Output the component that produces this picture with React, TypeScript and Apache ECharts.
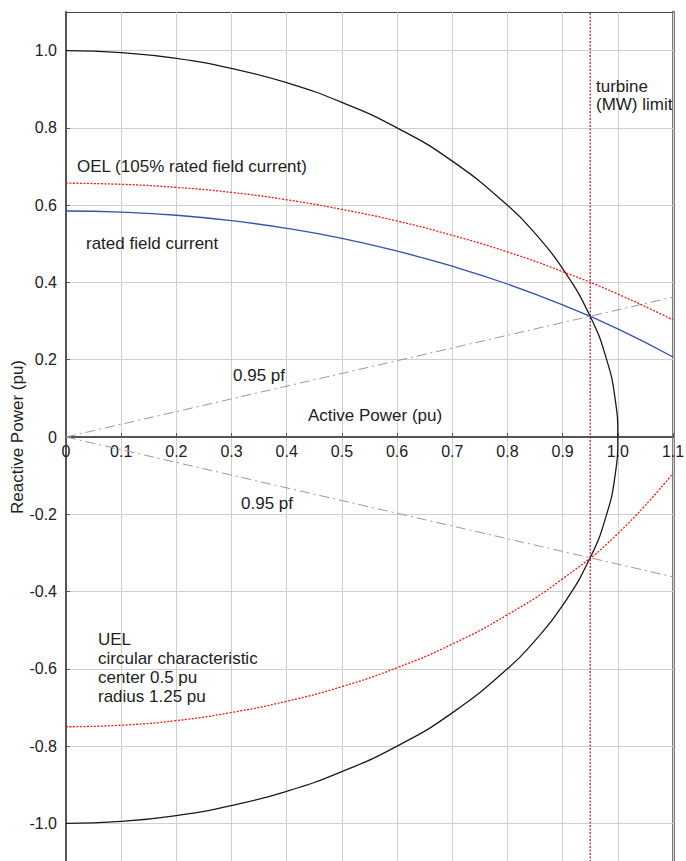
import React, { useEffect, useRef } from "react";
import * as echarts from "echarts";

// ---- data ----
const xTickValues = [0, 0.1, 0.2, 0.3, 0.4, 0.5, 0.6, 0.7, 0.8, 0.9, 1.0, 1.1];
const yTickValues = [-1.0, -0.8, -0.6, -0.4, -0.2, 0, 0.2, 0.4, 0.6, 0.8, 1.0];

// active power sample points for the limit curves
const activePower = [0, 0.1, 0.2, 0.3, 0.4, 0.5, 0.6, 0.7, 0.8, 0.9, 1.0, 1.1];
const ratedFieldQ = [0.585, 0.582, 0.574, 0.56, 0.54, 0.514, 0.481, 0.442, 0.396, 0.342, 0.28, 0.207];
const oelQ = [0.657, 0.654, 0.646, 0.633, 0.614, 0.589, 0.559, 0.522, 0.479, 0.428, 0.37, 0.303];
const uelQ = [-0.75, -0.746, -0.734, -0.713, -0.684, -0.646, -0.597, -0.536, -0.46, -0.367, -0.25, -0.094];

// stator (MVA) limit circle
const circleP = [0, 0.1, 0.2, 0.3, 0.4, 0.5, 0.6, 0.7, 0.8, 0.85, 0.9, 0.95, 0.98, 0.995, 1.0, 0.995, 0.98, 0.95, 0.9, 0.85, 0.8, 0.7, 0.6, 0.5, 0.4, 0.3, 0.2, 0.1, 0];
const circleQ = [1.0, 0.995, 0.98, 0.954, 0.917, 0.866, 0.8, 0.714, 0.6, 0.527, 0.436, 0.312, 0.199, 0.1, 0, -0.1, -0.199, -0.312, -0.436, -0.527, -0.6, -0.714, -0.8, -0.866, -0.917, -0.954, -0.98, -0.995, -1.0];

// 0.95 power factor lines
const pfP = [0, 1.1];
const pfLeadQ = [0, 0.362];
const pfLagQ = [0, -0.362];

// turbine (MW) limit
const turbineP = [0.95, 0.95];
const turbineQ = [-1.1, 1.1];

const FONT = "'Liberation Sans', Arial, Helvetica, sans-serif";

const zip = (xs: number[], ys: number[]) => xs.map((x, i) => [x, ys[i]]);
const fmt = (v: number) => (Math.abs(v) < 1e-9 ? "0" : v.toFixed(1));

// layout
const GRID_TOP = 12;
const GRID_BOTTOM = -1;
const CHART_H = 861;
const Y_MIN = -1.1;
const Y_MAX = 1.1;
// distance (px) from the grid's bottom edge up to Q = 0, so the x axis sits on Q = 0
const plotH = CHART_H - GRID_TOP - GRID_BOTTOM;
const zeroOffset = -(plotH * (0 - Y_MIN)) / (Y_MAX - Y_MIN);

export default function App() {
  const ref = useRef<HTMLDivElement>(null);

  useEffect(() => {
    if (!ref.current) return;
    const chart = echarts.init(ref.current, undefined, { renderer: "svg" });
    const textStyle = { fontFamily: FONT, fontSize: 17, fill: "#222" };
    chart.setOption({
      animation: false,
      backgroundColor: "#fff",
      grid: { left: 66, right: 13, top: GRID_TOP, bottom: GRID_BOTTOM, containLabel: false, outerBoundsMode: "none" },
      xAxis: [
        {
          type: "value",
          position: "bottom",
          offset: zeroOffset,
          min: 0,
          max: 1.1,
          interval: 0.1,
          axisLine: { onZero: false, lineStyle: { color: "#555", width: 2 } },
          axisTick: { show: true, inside: true, length: 4, lineStyle: { color: "#555" }, customValues: xTickValues },
          axisLabel: {
            customValues: xTickValues,
            formatter: fmt,
            fontSize: 16,
            fontFamily: FONT,
            color: "#222",
            margin: 6,
          },
          splitLine: { show: true, lineStyle: { color: "#cfcfcf", width: 1 } },
          z: 3,
        },
        {
          type: "value",
          position: "top",
          min: 0,
          max: 1.1,
          axisLine: { show: true, onZero: false, lineStyle: { color: "#444", width: 1 } },
          axisTick: { show: false },
          axisLabel: { show: false },
          splitLine: { show: false },
        },
      ],
      yAxis: [
        {
          type: "value",
          min: Y_MIN,
          max: Y_MAX,
          name: "Reactive Power (pu)",
          nameLocation: "middle",
          nameGap: 40,
          nameMoveOverlap: false,
          nameTextStyle: { fontSize: 17, fontFamily: FONT, color: "#222" },
          axisLine: { onZero: false, lineStyle: { color: "#555", width: 2 } },
          axisTick: { show: true, inside: true, length: 4, lineStyle: { color: "#555" }, customValues: yTickValues },
          axisLabel: {
            customValues: yTickValues,
            formatter: fmt,
            fontSize: 16,
            fontFamily: FONT,
            color: "#222",
            margin: 9,
          },
          splitLine: { show: true, lineStyle: { color: "#cfcfcf", width: 1 } },
          z: 3,
        },
        {
          type: "value",
          position: "right",
          min: Y_MIN,
          max: Y_MAX,
          axisLine: { show: true, onZero: false, lineStyle: { color: "#555", width: 2.5 } },
          axisTick: { show: false },
          axisLabel: { show: false },
          splitLine: { show: false },
        },
      ],
      series: [
        {
          type: "line",
          name: "pf lead",
          data: zip(pfP, pfLeadQ),
          showSymbol: false,
          lineStyle: { color: "#9a9a9a", width: 1, type: [10, 4, 2, 4] },
          z: 4,
        },
        {
          type: "line",
          name: "pf lag",
          data: zip(pfP, pfLagQ),
          showSymbol: false,
          lineStyle: { color: "#9a9a9a", width: 1, type: [10, 4, 2, 4] },
          z: 4,
        },
        {
          type: "line",
          name: "turbine limit",
          data: zip(turbineP, turbineQ),
          showSymbol: false,
          lineStyle: { color: "#b01828", width: 1.2, type: [2, 1.5] },
          z: 5,
        },
        {
          type: "line",
          name: "MVA circle",
          data: zip(circleP, circleQ),
          showSymbol: false,
          smooth: true,
          lineStyle: { color: "#1a1a1a", width: 1.3 },
          z: 6,
        },
        {
          type: "line",
          name: "rated field current",
          data: zip(activePower, ratedFieldQ),
          showSymbol: false,
          smooth: true,
          lineStyle: { color: "#3553a8", width: 1.3 },
          z: 6,
        },
        {
          type: "line",
          name: "OEL",
          data: zip(activePower, oelQ),
          showSymbol: false,
          smooth: true,
          lineStyle: { color: "#f01818", width: 1.3, type: [2, 1.5] },
          z: 6,
        },
        {
          type: "line",
          name: "UEL",
          data: zip(activePower, uelQ),
          showSymbol: false,
          smooth: true,
          lineStyle: { color: "#f01818", width: 1.3, type: [2, 1.5] },
          z: 6,
        },
      ],
      graphic: [
        { type: "text", x: 596, y: 77, z: 10, style: { ...textStyle, text: "turbine\n(MW) limit", lineHeight: 18, textVerticalAlign: "top" } },
        { type: "text", x: 77, y: 166, z: 10, style: { ...textStyle, text: "OEL (105% rated field current)", textVerticalAlign: "middle" } },
        { type: "text", x: 86, y: 243, z: 10, style: { ...textStyle, text: "rated field current", textVerticalAlign: "middle" } },
        { type: "text", x: 233, y: 375, z: 10, style: { ...textStyle, text: "0.95 pf", textVerticalAlign: "middle" } },
        { type: "text", x: 308, y: 415, z: 10, style: { ...textStyle, text: "Active Power (pu)", textVerticalAlign: "middle" } },
        { type: "text", x: 241, y: 503, z: 10, style: { ...textStyle, text: "0.95 pf", textVerticalAlign: "middle" } },
        {
          type: "text",
          x: 98,
          y: 630,
          z: 10,
          style: { ...textStyle, text: "UEL\ncircular characteristic\ncenter 0.5 pu\nradius 1.25 pu", lineHeight: 19, textVerticalAlign: "top" },
        },
      ],
    });
    return () => chart.dispose();
  }, []);

  return (
    <div
      ref={ref}
      style={{ position: "fixed", left: 0, top: 0, width: 686, height: CHART_H, background: "#fff" }}
    />
  );
}
